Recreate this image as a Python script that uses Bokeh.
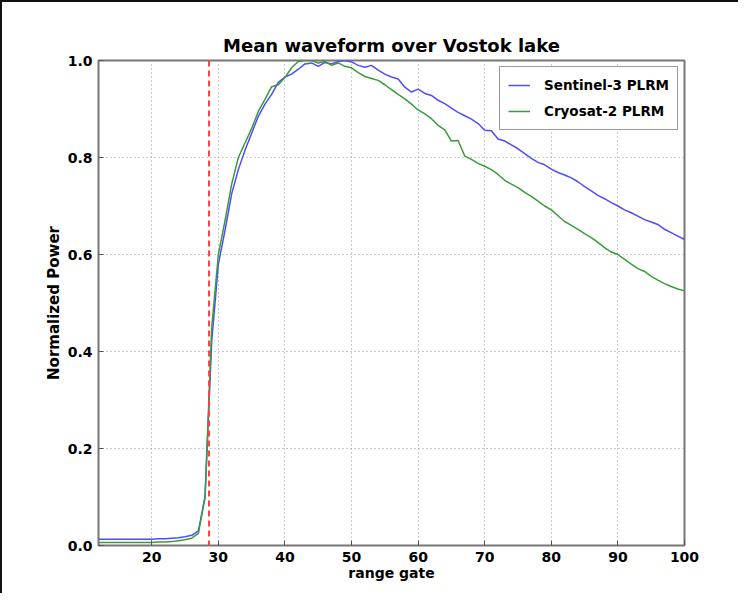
from bokeh.plotting import figure
from bokeh.models import FixedTicker, PrintfTickFormatter, Span, Range1d
from bokeh.embed import file_html
from bokeh.resources import INLINE

gates = list(range(12, 101))

sentinel3 = [
    0.013, 0.013, 0.013, 0.013, 0.013, 0.013, 0.013, 0.013, 0.013,  # 12-20
    0.014, 0.014, 0.015, 0.016, 0.018, 0.021, 0.030, 0.100, 0.420, 0.580,  # 21-30
    0.650, 0.725, 0.775, 0.815, 0.850, 0.885, 0.910, 0.930, 0.955, 0.966,  # 31-40
    0.972, 0.982, 0.993, 0.995, 0.988, 0.996, 0.993, 0.998, 1.000, 0.997,  # 41-50
    0.990, 0.986, 0.990, 0.980, 0.972, 0.966, 0.962, 0.945, 0.935, 0.941,  # 51-60
    0.932, 0.928, 0.918, 0.911, 0.902, 0.893, 0.886, 0.879, 0.870, 0.856,  # 61-70
    0.855, 0.838, 0.834, 0.826, 0.818, 0.808, 0.798, 0.790, 0.785, 0.776,  # 71-80
    0.769, 0.764, 0.758, 0.750, 0.740, 0.731, 0.722, 0.715, 0.707, 0.700,  # 81-90
    0.692, 0.686, 0.679, 0.672, 0.667, 0.662, 0.652, 0.645, 0.638, 0.631,  # 91-100
]

cryosat2 = [
    0.006, 0.006, 0.006, 0.006, 0.006, 0.006, 0.006, 0.006, 0.006,  # 12-20
    0.007, 0.007, 0.008, 0.010, 0.012, 0.015, 0.025, 0.100, 0.450, 0.600,  # 21-30
    0.670, 0.745, 0.800, 0.830, 0.860, 0.895, 0.920, 0.946, 0.950, 0.965,  # 31-40
    0.985, 0.998, 1.000, 1.000, 0.995, 0.998, 0.990, 0.995, 0.988, 0.985,  # 41-50
    0.975, 0.967, 0.963, 0.959, 0.950, 0.940, 0.930, 0.921, 0.910, 0.898,  # 51-60
    0.890, 0.880, 0.866, 0.857, 0.834, 0.835, 0.803, 0.796, 0.788, 0.782,  # 61-70
    0.775, 0.765, 0.753, 0.745, 0.738, 0.728, 0.720, 0.710, 0.700, 0.692,  # 71-80
    0.680, 0.668, 0.660, 0.652, 0.643, 0.635, 0.625, 0.614, 0.605, 0.600,  # 81-90
    0.590, 0.580, 0.571, 0.565, 0.555, 0.547, 0.540, 0.534, 0.529, 0.525,  # 91-100
]

leading_edge_gate = 28.6

x_ticks = [20, 30, 40, 50, 60, 70, 80, 90, 100]
y_ticks = [0.0, 0.2, 0.4, 0.6, 0.8, 1.0]

FONT = "DejaVu Sans"

p = figure(
    width=738, height=593,
    x_range=Range1d(12, 100), y_range=Range1d(0, 1.0),
    output_backend="svg", toolbar_location=None,
    title="Mean waveform over Vostok lake",
    min_border_left=96, min_border_right=56, min_border_top=58, min_border_bottom=50,
)
p.styles = {"border-left": "2px solid #111", "border-top": "2px solid #111"}

p.title.align = "center"
p.title.text_font = FONT
p.title.text_font_size = "18px"
p.title.text_font_style = "bold"
p.title.text_color = "#000000"

p.outline_line_color = "#777777"
p.outline_line_width = 2
p.outline_line_alpha = 1.0

for ax in (p.xaxis[0], p.yaxis[0]):
    ax.axis_line_color = None
    ax.major_tick_in = 5
    ax.major_tick_out = 0
    ax.major_tick_line_color = "#555555"
    ax.minor_tick_line_color = None
    ax.major_label_text_font = FONT
    ax.major_label_text_font_size = "14px"
    ax.major_label_text_font_style = "bold"
    ax.major_label_text_color = "#000000"
    ax.axis_label_text_font = FONT
    ax.axis_label_text_font_size = "14px"
    ax.axis_label_text_font_style = "bold"
    ax.axis_label_text_color = "#000000"

p.xaxis.ticker = FixedTicker(ticks=x_ticks)
p.yaxis.ticker = FixedTicker(ticks=y_ticks)
p.yaxis.formatter = PrintfTickFormatter(format="%.1f")
p.xaxis.axis_label = "range gate"
p.yaxis.axis_label = "Normalized Power"
p.yaxis.axis_label_text_font_size = "15px"
p.xaxis.major_label_standoff = 6
p.yaxis.major_label_standoff = 6
p.xaxis.axis_label_standoff = 0
p.yaxis.axis_label_standoff = 2

p.grid.grid_line_color = "#999999"
p.grid.grid_line_dash = "1 3"
p.grid.grid_line_width = 1

p.line(gates, sentinel3, line_color="#4d4dff", line_width=1.5, legend_label="Sentinel-3 PLRM")
p.line(gates, cryosat2, line_color="#3c9a3c", line_width=1.5, legend_label="Cryosat-2 PLRM")

p.add_layout(Span(location=leading_edge_gate, dimension="height", line_color="#ff4040",
                  line_width=2, line_dash="6 4"))

p.legend.location = "top_right"
p.legend.label_text_font = FONT
p.legend.label_text_font_size = "13.5px"
p.legend.label_text_font_style = "bold"
p.legend.label_text_color = "#000000"
p.legend.border_line_color = "#333333"
p.legend.border_line_width = 1.5
p.legend.background_fill_color = "white"
p.legend.background_fill_alpha = 1.0
p.legend.glyph_width = 22
p.legend.label_standoff = 14
p.legend.padding = 8
p.legend.spacing = 6
p.legend.margin = 6

open("out.html", "w").write(file_html(p, INLINE))
